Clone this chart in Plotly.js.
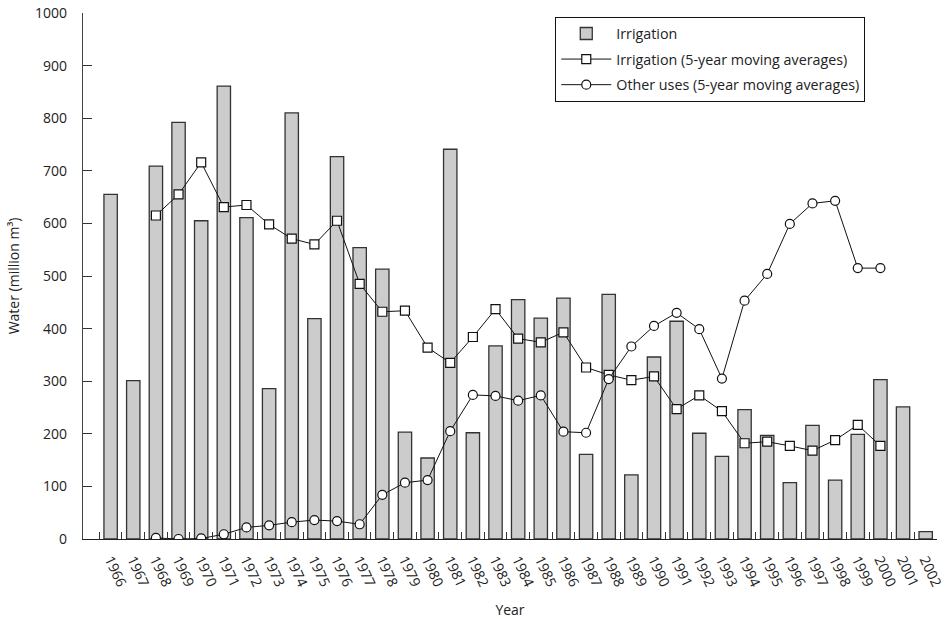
<!DOCTYPE html>
<html>
<head>
<meta charset="utf-8">
<script src="https://cdn.plot.ly/plotly-3.0.1.min.js"></script>
<style>html,body{margin:0;padding:0;background:#fff;}#chart{width:945px;height:619px;}</style>
</head>
<body>
<div id="chart"></div>
<script>
const years = ["1966","1967","1968","1969","1970","1971","1972","1973","1974","1975","1976","1977","1978","1979","1980","1981","1982","1983","1984","1985","1986","1987","1988","1989","1990","1991","1992","1993","1994","1995","1996","1997","1998","1999","2000","2001","2002"];
const irrigation = [655,301,709,792,605,861,611,286,810,419,727,554,513,203,154,741,202,367,455,420,458,161,465,122,346,414,201,157,246,197,107,216,112,199,303,251,14];
const maYears = ["1968","1969","1970","1971","1972","1973","1974","1975","1976","1977","1978","1979","1980","1981","1982","1983","1984","1985","1986","1987","1988","1989","1990","1991","1992","1993","1994","1995","1996","1997","1998","1999","2000"];
const irrigationMA = [615,655,716,631,635,598,571,560,605,485,432,434,364,335,384,437,381,374,393,326,312,302,309,247,273,243,182,185,177,168,188,217,177];
const otherMA = [2,0,1,9,22,26,32,36,34,28,84,107,112,205,274,272,263,273,204,202,304,366,405,430,399,305,453,504,599,638,643,515,515];

const FONT = "Open Sans, Noto Sans, sans-serif";
const traces = [
  {type:"bar", x:years, y:irrigation, name:"Irrigation", legendgroup:"a",
   width:0.59, marker:{color:"#cccccc", line:{color:"#333", width:1.3}}},
  {type:"scatter", mode:"lines+markers", x:maYears, y:irrigationMA, name:"Irrigation (5-year moving averages)", legendgroup:"b",
   line:{color:"#111", width:1}, marker:{symbol:"square", size:9, color:"#fff", line:{color:"#111", width:1.2}}},
  {type:"scatter", mode:"lines+markers", x:maYears, y:otherMA, name:"Other uses (5-year moving averages)", legendgroup:"c",
   line:{color:"#111", width:1}, marker:{symbol:"circle", size:9, color:"#fff", line:{color:"#111", width:1.2}}}
];
const layout = {
  width:945, height:619,
  margin:{l:83, r:8, t:13, b:80},
  paper_bgcolor:"#fff", plot_bgcolor:"#fff",
  font:{family:FONT, size:14, color:"#222"},
  showlegend:true,
  legend:{x:0.553, y:0.993, xanchor:"left", yanchor:"top", bordercolor:"#111", borderwidth:1, bgcolor:"#fff",
          font:{family:FONT, size:14.3, color:"#222"}, tracegroupgap:4, traceorder:"grouped", itemwidth:50},
  xaxis:{type:"category", categoryorder:"array", categoryarray:years, range:[-1.22,36.5],
         showline:true, linecolor:"#222", linewidth:1.3, ticks:"inside", ticklen:7, tickcolor:"#333", tickwidth:1,
         tickson:"boundaries", tickangle:65, showgrid:false, zeroline:false, ticklabelstandoff:6,
         tickfont:{family:FONT, size:14, color:"#222"},
         title:{text:"Year", font:{family:FONT, size:14, color:"#222"}, standoff:16}},
  yaxis:{range:[0,1000], dtick:100, showline:true, linecolor:"#444", linewidth:1.2, ticks:"inside", ticklen:9, tickcolor:"#333",
         showgrid:false, zeroline:false, ticklabelstandoff:12,
         tickfont:{family:FONT, size:14, color:"#222"},
         title:{text:"Water (million m³)", font:{family:FONT, size:14, color:"#222"}, standoff:12}}
};
Plotly.newPlot("chart", traces, layout, {displayModeBar:false, staticPlot:true});
</script>
</body>
</html>
